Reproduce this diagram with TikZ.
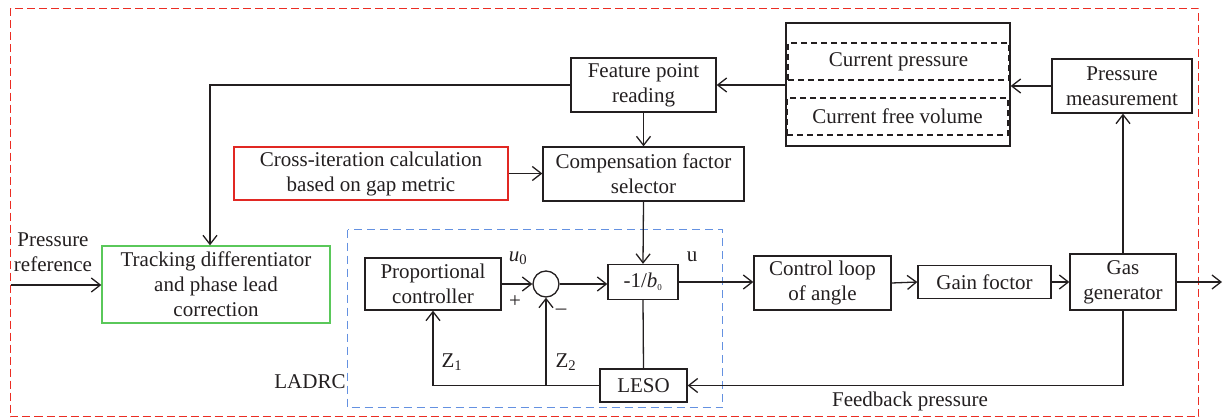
\documentclass[tikz,border=0pt]{standalone}
\usepackage{fontspec}
\setmainfont{Liberation Serif}
\usetikzlibrary{arrows.meta,calc}
\definecolor{linec}{RGB}{35,31,32}
\definecolor{redd}{RGB}{235,45,35}
\definecolor{blued}{RGB}{100,145,225}
\definecolor{greenb}{RGB}{90,200,90}
\definecolor{redb}{RGB}{225,40,35}
\begin{document}
\begin{tikzpicture}[x=1pt,y=-1pt,line width=1.3pt,draw=linec,text=linec,
  >={Straight Barb[length=9pt,width=14pt]},
  font=\fontsize{21}{25}\selectfont,
  blk/.style={draw=linec,inner sep=0pt,align=center},
  dbox/.style={draw=linec,inner sep=0pt,align=center,dash pattern=on 6pt off 4pt},
  lbl/.style={inner sep=0pt}]
\useasboundingbox (0,0) rectangle (1226,420);
% frames
\draw[draw=redd,line width=1.5pt,dash pattern=on 8pt off 4pt] (10.5,8.5) rectangle (1198.5,416.5);
\draw[draw=blued,line width=1.5pt,dash pattern=on 8pt off 5pt] (347.5,229.5) rectangle (722.5,407.5);
% nodes
\node[blk,minimum width=145pt,minimum height=54pt] (fpr) at (643.5,85) {Feature point\\reading};
\node[blk,minimum width=224pt,minimum height=123pt] (store) at (898,84.5) {};
\node[dbox,minimum width=221pt,minimum height=37pt] (cp) at (898.5,61.5) {Current pressure};
\node[dbox,minimum width=221pt,minimum height=37pt] (cfv) at (897.5,116.5) {Current free volume};
\node[blk,minimum width=140pt,minimum height=54pt] (pm) at (1122,86) {Pressure\\measurement};
\node[blk,draw=redb,minimum width=274pt,minimum height=53pt] (cross) at (371,173.5) {Cross-iteration calculation\\based on gap metric};
\node[blk,minimum width=201pt,minimum height=54pt] (comp) at (643.5,174) {Compensation factor\\selector};
\node[blk,draw=greenb,minimum width=228pt,minimum height=77pt] (td) at (216,284.5) {Tracking differentiator\\and phase lead\\correction};
\node[lbl,align=center] (pref) at (53,252) {Pressure\\reference};
\node[blk,minimum width=136pt,minimum height=52pt] (pc) at (433,284) {Proportional\\controller};
\node[draw=linec,circle,minimum size=26pt,inner sep=0pt] (sum) at (546,284) {};
\node[blk,minimum width=70pt,minimum height=35pt] (b0) at (643,282) {-1/\textit{b}\textsubscript{\fontsize{9}{9}\selectfont 0}};
\node[blk,minimum width=137pt,minimum height=54pt] (cla) at (822.5,283) {Control loop\\of angle};
\node[blk,minimum width=133pt,minimum height=33pt] (gf) at (984.5,282) {Gain foctor};
\node[blk,minimum width=106pt,minimum height=56pt] (gg) at (1123,282) {Gas\\generator};
\node[blk,minimum width=87pt,minimum height=33pt] (leso) at (643.5,385.5) {LESO};
% labels
\node[lbl] (u0) at (518,258) {\textit{u}\textsubscript{0}};
\node[lbl] (plus) at (515,302) {+};
\node[lbl] (minus) at (561,312) {–};
\node[lbl] (ulab) at (692,257) {u};
\node[lbl] (z1) at (452,362) {Z\textsubscript{1}};
\node[lbl] (z2) at (566,362) {Z\textsubscript{2}};
\node[lbl] (ladrc) at (310,382) {LADRC};
\node[lbl] (fbp) at (910,401) {Feedback pressure};
% coordinates
\coordinate (inp) at (11,285);
\coordinate (outp) at (1222,282);
% connectors
\draw[->] (pm.west) -- (store.east |- pm.west);
\draw[->] (store.west |- fpr.east) -- (fpr.east);
\draw[->] (fpr.west) -| ([xshift=-6pt]td.north);
\draw[->] (fpr.south) -- (comp.north);
\draw[->] (cross.east) -- (comp.west |- cross.east);
\draw[->] (comp.south) -- (b0.north);
\draw[->] (inp) -- (inp -| td.west);
\draw[->] (pc.east) -- (sum.west);
\draw[->] (sum.east) -- (sum.east -| b0.west);
\draw[->] (b0.east) -- (b0.east -| cla.west);
\draw[->] (cla.east) -- (gf.west);
\draw[->] (gf.east) -- (gg.west);
\draw[->] (gg.east) -- (outp);
\draw[->] (gg.north) -- (gg.north |- pm.south);
\draw[->] (gg.south) |- (leso.east);
\draw[->] (leso.west) -| (pc.south);
\draw[->] (sum.south |- leso.west) -- (sum.south);
\draw (b0.south) -- (leso.north);
\end{tikzpicture}
\end{document}
